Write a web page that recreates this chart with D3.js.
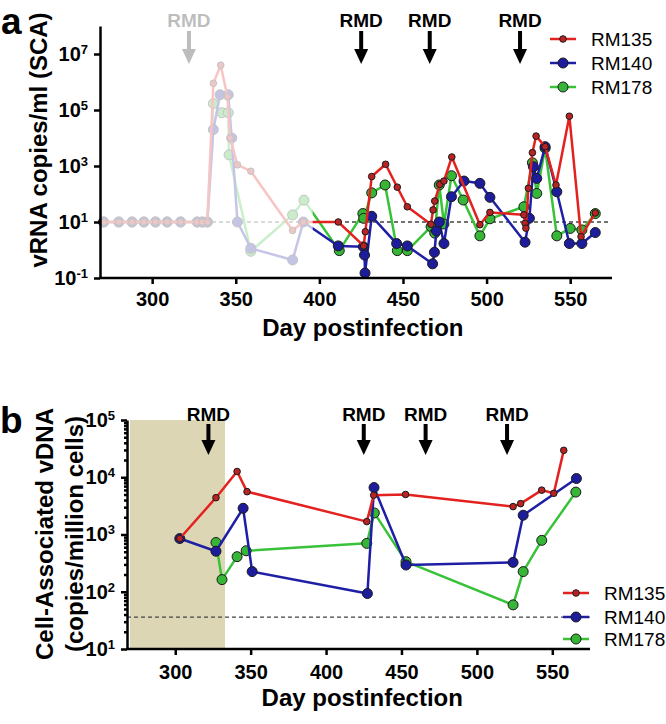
<!DOCTYPE html>
<html>
<head>
<meta charset="utf-8">
<title>vRNA and CA-vDNA after RMD</title>
<script src="https://cdnjs.cloudflare.com/ajax/libs/d3/7.8.5/d3.min.js"></script>
<style>
body { margin: 0; background: white; }
svg { font-family: "Liberation Sans", Arial, sans-serif; }
.axis path, .axis line { stroke: black; stroke-width: 2.5; }
.axis .minor line { stroke-width: 1.5; }
.axis text { font-size: 20px; font-weight: bold; fill: black; font-family: "Liberation Sans", Arial, sans-serif; }
.title { font-size: 24px; font-weight: bold; }
.panel { font-size: 37px; font-weight: bold; }
.rmd { font-size: 19px; font-weight: bold; }
.legend text { font-size: 19px; }
.limit { stroke: #444; stroke-width: 1.3; stroke-dasharray: 4,3; }
</style>
</head>
<body>
<svg id="chart" width="666" height="724"></svg>
<script>
// animals
var animals = ["RM135", "RM140", "RM178"];
var lineColors = ["#e3221f", "#1f1fa6", "#38c238"];
var dotColors = ["#b82424", "#1d1d9c", "#36b536"];
var dotSizes = [3.3, 5, 5];

// panel a - plasma vRNA (copies/ml, SCA)
var vrnaDays135 = [271, 280, 288, 295, 302, 309, 317, 327, 330, 333, 336.6, 341, 345, 346.6, 351, 359, 384, 390.4, 411.3, 426.5, 427.5, 431.3, 439.6, 446.6, 452.6, 466.7, 468, 469, 472, 474.5, 479.2, 496, 502, 522.3, 523, 523.5, 525, 527.4, 529.6, 535, 541.5, 549.5, 556.5, 565];
var vrna135 = [10, 10, 10, 10, 10, 10, 10, 10, 10, 10, 9e5, 4e6, 3e5, 1e4, 1100, 650, 5, 10, 10, 1.4, 4.5, 420, 1150, 175, 35, 8.3, 27, 56, 220, 290, 2100, 8, 22, 18, 9, 6, 160, 3000, 11700, 4900, 210, 6e4, 3, 21];
var vrnaDays140 = [271, 280, 288, 295, 302, 309, 317, 327, 330, 333, 336.6, 340.6, 345.5, 347.6, 351, 359, 384, 390.4, 411.3, 426.3, 427, 427.3, 431.3, 446.2, 452.6, 467.7, 468.8, 470, 471.7, 474.5, 479, 486.5, 496, 502, 523, 525.6, 528, 530, 535, 542, 549.5, 557, 565];
var vrna140 = [10, 10, 10, 10, 10, 10, 10, 10, 10, 10, 2e4, 3.5e5, 3.5e5, 1e4, 10, 1.15, 0.44, 10, 1.4, 1.3, 0.66, 0.15, 16, 1.7, 1.4, 0.32, 0.83, 4.8, 10, 1.7, 80, 290, 240, 76, 1.9, 13.6, 940, 360, 4900, 120, 1.7, 1.7, 4.2];
var vrnaDays178 = [271, 280, 288, 295, 302, 309, 317, 327, 330, 333, 336.6, 341.6, 345.5, 346, 359, 384, 390.8, 411.9, 426, 426.5, 431.3, 439.3, 446.6, 452.6, 466.8, 469, 471.7, 474.5, 479, 486, 496, 502, 522.3, 527.4, 530, 535, 542, 550, 557, 565];
var vrna178 = [10, 10, 10, 10, 10, 10, 10, 10, 10, 10, 1.7e5, 8e4, 8e4, 2500, 0.9, 18, 60, 0.95, 20, 13.5, 110, 210, 0.95, 0.95, 6.8, 4, 210, 8.5, 450, 61, 3.2, 13, 35, 1300, 105, 4300, 3.2, 5.9, 5.2, 20];
var vrnaTicks = [0.1, 10, 1000, 1e5, 1e7];
var vrnaLimit = 10;

// panel b - cell-associated vDNA (copies/million cells)
var cadnaDays135 = [303, 327, 341, 347.6, 427, 431.6, 452.7, 524, 529, 543, 551, 557.6];
var cadna135 = [850, 4400, 12600, 5600, 1680, 4860, 5000, 3070, 3460, 5950, 5240, 29500];
var cadnaDays140 = [303, 327, 345, 351, 427.4, 431.8, 453, 524, 530.7, 566];
var cadna140 = [850, 510, 2870, 225, 93, 6600, 293, 326, 2170, 9500];
var cadnaDays178 = [327, 331, 341, 347, 427, 432, 453, 524, 530.7, 543, 565.6];
var cadna178 = [725, 163, 410, 520, 700, 2380, 335, 59, 225, 790, 5500];
var cadnaTicks = [10, 100, 1000, 1e4, 1e5];
var cadnaLimit = 36;

var dayTicks = [300, 350, 400, 450, 500, 550];
var rmdDays = [322, 425, 466, 520];
var shadeDays = [270, 333];
var fadeUntil = 396;

var svg = d3.select("#chart");

function zip(days, vals) {
  return days.map(function(d, i) { return [d, vals[i]]; });
}

function powerLabels(axisG) {
  axisG.selectAll(".tick text").each(function(d) {
    var t = d3.select(this).text("");
    t.append("tspan").text("10");
    t.append("tspan").attr("dy", "-0.55em").style("font-size", "13px")
      .text(Math.round(Math.log10(d)));
  });
}

function drawSeries(g, x, y, series) {
  var line = d3.line().x(d => x(d[0])).y(d => y(d[1]));
  // green first, red on top
  [2, 1, 0].forEach(function(k) {
    g.append("path")
      .datum(series[k])
      .attr("d", line)
      .attr("fill", "none")
      .attr("stroke", lineColors[k])
      .attr("stroke-width", 2.5)
      .attr("stroke-linejoin", "round");
    g.selectAll(".dot" + k)
      .data(series[k])
      .enter().append("circle")
        .attr("class", "dot" + k)
        .attr("cx", d => x(d[0]))
        .attr("cy", d => y(d[1]))
        .attr("r", dotSizes[k])
        .attr("fill", dotColors[k])
        .attr("stroke", "#1a1a1a")
        .attr("stroke-width", 1);
  });
}

function drawArrows(g, x, textY, top, bottom) {
  rmdDays.forEach(function(day) {
    var cx = x(day);
    g.append("text").attr("class", "rmd")
      .attr("x", cx).attr("y", textY)
      .attr("text-anchor", "middle").text("RMD");
    g.append("line")
      .attr("x1", cx).attr("x2", cx)
      .attr("y1", top).attr("y2", bottom - 12)
      .attr("stroke", "black").attr("stroke-width", 4);
    g.append("path")
      .attr("d", `M${cx - 7},${bottom - 15}L${cx + 7},${bottom - 15}L${cx},${bottom}Z`)
      .attr("fill", "black");
  });
}

function drawLegend(g, x0, rows) {
  var lg = g.append("g").attr("class", "legend");
  animals.forEach(function(name, k) {
    lg.append("line")
      .attr("x1", x0).attr("x2", x0 + 26)
      .attr("y1", rows[k]).attr("y2", rows[k])
      .attr("stroke", lineColors[k]).attr("stroke-width", 2.5);
    lg.append("circle")
      .attr("cx", x0 + 13).attr("cy", rows[k]).attr("r", dotSizes[k])
      .attr("fill", dotColors[k]).attr("stroke", "#1a1a1a").attr("stroke-width", 1);
    lg.append("text")
      .attr("x", x0 + 41).attr("y", rows[k] + 7)
      .text(name);
  });
}

// ---------- panel a ----------
var xA = d3.scaleLinear().domain([270, 575]).range([102, 612]);
var yA = d3.scaleLog().domain([0.1, 1e8]).range([278, 26]);
var gA = svg.append("g");

gA.append("line").attr("class", "limit")
  .attr("x1", 100).attr("x2", 608)
  .attr("y1", yA(vrnaLimit)).attr("y2", yA(vrnaLimit));

drawSeries(gA, xA, yA, [zip(vrnaDays135, vrna135), zip(vrnaDays140, vrna140), zip(vrnaDays178, vrna178)]);
drawArrows(gA, xA, 27, 31, 64);

// faded early period
gA.append("rect")
  .attr("x", 101).attr("y", 0)
  .attr("width", xA(fadeUntil) - 101).attr("height", 276)
  .attr("fill", "white").attr("opacity", 0.74);

var axA = gA.append("g").attr("class", "axis")
  .attr("transform", "translate(0,278)")
  .call(d3.axisBottom(xA).tickValues(dayTicks).tickSize(6).tickSizeOuter(0).tickPadding(8));
axA.select(".domain").attr("d", "M99,0H612");

var ayA = gA.append("g").attr("class", "axis")
  .attr("transform", "translate(100,0)")
  .call(d3.axisLeft(yA).tickValues(vrnaTicks).tickSize(6).tickSizeOuter(0).tickPadding(6));
powerLabels(ayA);

gA.append("text").attr("class", "title")
  .attr("x", xA(426)).attr("y", 336)
  .attr("text-anchor", "middle").text("Day postinfection");
gA.append("text").attr("class", "title")
  .attr("transform", "translate(47,140) rotate(-90)")
  .attr("text-anchor", "middle").text("vRNA copies/ml (SCA)");
gA.append("text").attr("class", "panel").attr("x", 1).attr("y", 34).text("a");

drawLegend(gA, 550, [39, 63, 87]);

// ---------- panel b ----------
var xB = d3.scaleLinear().domain([270, 575]).range([130, 590]);
var yB = d3.scaleLog().domain([10, 1e5]).range([649, 420]);
var gB = svg.append("g");

gB.append("rect")
  .attr("x", xB(shadeDays[0])).attr("y", yB(1e5))
  .attr("width", xB(shadeDays[1]) - xB(shadeDays[0]))
  .attr("height", yB(10) - yB(1e5))
  .attr("fill", "#ddd6b5");

gB.append("line").attr("class", "limit")
  .attr("x1", 127).attr("x2", 590)
  .attr("y1", yB(cadnaLimit)).attr("y2", yB(cadnaLimit));

drawSeries(gB, xB, yB, [zip(cadnaDays135, cadna135), zip(cadnaDays140, cadna140), zip(cadnaDays178, cadna178)]);
drawArrows(gB, xB, 421, 424, 455);

var axB = gB.append("g").attr("class", "axis")
  .attr("transform", "translate(0,649)")
  .call(d3.axisBottom(xB).tickValues(dayTicks).tickSize(6).tickSizeOuter(0).tickPadding(10));
axB.select(".domain").attr("d", "M126,0H590");

// minor log ticks
var minorB = [];
cadnaTicks.slice(0, -1).forEach(function(t) {
  [2, 3, 4, 5, 6, 7, 8, 9].forEach(function(m) { minorB.push(t * m); });
});
gB.append("g").attr("class", "axis minor")
  .attr("transform", "translate(127,0)")
  .call(d3.axisLeft(yB).tickValues(minorB).tickSize(3).tickFormat(""))
  .select(".domain").remove();

var ayB = gB.append("g").attr("class", "axis")
  .attr("transform", "translate(127,0)")
  .call(d3.axisLeft(yB).tickValues(cadnaTicks).tickSize(6).tickSizeOuter(0).tickPadding(6));
powerLabels(ayB);

gB.append("text").attr("class", "title")
  .attr("x", xB(424)).attr("y", 706)
  .attr("text-anchor", "middle").text("Day postinfection");
gB.append("text").attr("class", "title")
  .attr("transform", "translate(53,534) rotate(-90)")
  .attr("text-anchor", "middle").text("Cell-Associated vDNA");
gB.append("text").attr("class", "title")
  .attr("transform", "translate(83,534) rotate(-90)")
  .attr("text-anchor", "middle").text("(copies/million cells)");
gB.append("text").attr("class", "panel").attr("x", 0).attr("y", 433).text("b");

drawLegend(gB, 563, [593, 617, 639]);
</script>
</body>
</html>
